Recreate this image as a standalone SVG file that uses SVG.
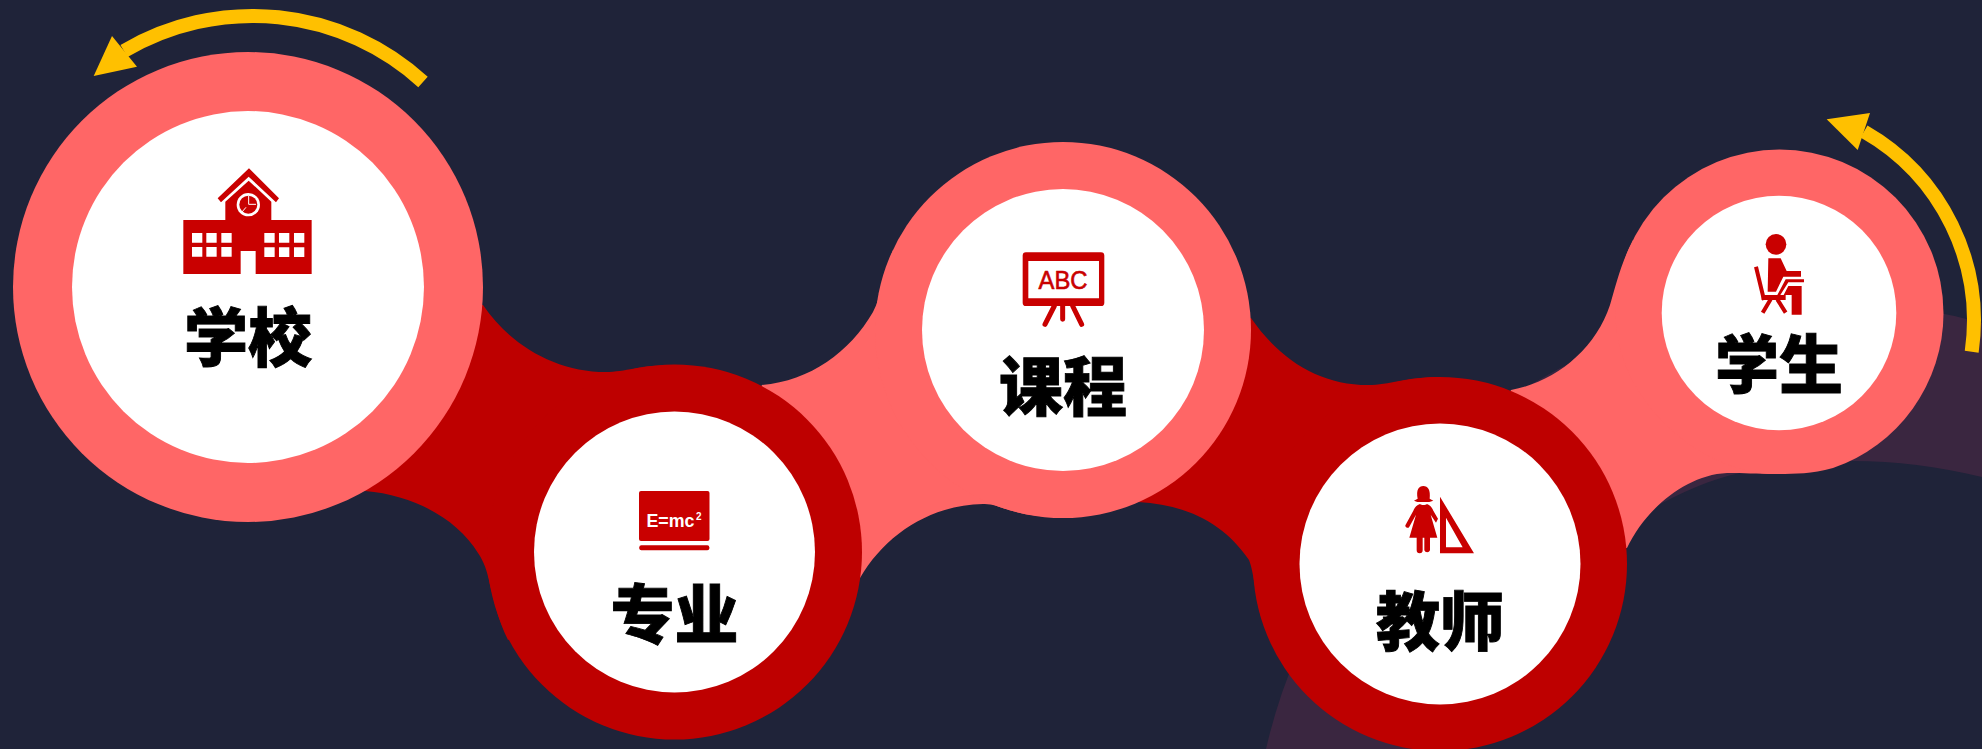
<svg xmlns="http://www.w3.org/2000/svg" width="1982" height="749" viewBox="0 0 1982 749">
<style>
.pink{fill:#FF6666}.red{fill:#BE0000}.white{fill:#FFFFFF}.ic{fill:#C90000}
.icl{fill:none;stroke:#C90000}
.lab{font-family:"Noto Sans CJK SC","Noto Sans CJK JP",sans-serif;font-weight:900;font-size:64px;text-anchor:middle;fill:#000000;stroke:#000000;stroke-width:.9px}
.wl{fill:none;stroke:#FFFFFF}
.arrow{fill:none;stroke:#FFC000;stroke-width:14}
.head{fill:#FFC000}
</style>
<rect width="1982" height="749" fill="#1F2339"/>
<path id="ring" fill="#3A2640" d="M1266,749A577,577 0 0 1 1982,323L1982,477C1900,458 1830,455 1740,473C1640,495 1500,600 1440,749Z"/>
<g id="connectors">
<path class="red" d="M483,305C510,345 556,372 606,372C625,372 640,365 675,365L675,552L508,640C498,620 494,600 490,585C487,570 484,562 478,553C458,520 415,495 365,491L248,287Z"/>
<path class="pink" d="M893,250C885,270 882,295 873,312C850,352 810,381 762,385L674,552L860,578C885,535 930,505 983,504C1000,503 1010,517 1063,517L1063,330Z"/>
<path class="red" d="M1251,318C1280,360 1320,385 1368,385C1390,385 1405,377 1441,377L1440,564L1262,620C1256,600 1254,572 1249,560C1225,525 1190,505 1138,502L1063,330Z"/>
<path class="pink" d="M1511,390C1555,382 1595,350 1610,305C1616,285 1621,263 1633,240L1779,313L1776,474C1755,474 1745,473 1727,473C1685,475 1645,510 1627,548L1440,564Z"/>
</g>
<g id="node-school">
<circle class="pink" cx="248" cy="287" r="235"/><circle class="white" cx="248" cy="287" r="176"/>
<g transform="translate(150,150) scale(.3333)">
<path class="ic" d="M297,55L387,145L378,157L296,80L213,157L203,145Z"/>
<path class="ic" d="M296,92L364,155V210H485V372H317V303H272V372H100V210H226V155Z"/>
<circle class="white" cx="295" cy="164" r="35"/><circle class="ic" cx="295" cy="164" r="27"/>
<path class="wl" stroke-width="3" d="M296,137V163H318M288,172L276,186"/>
<path class="white" d="M126,249h31v29h-31zM169,249h31v29h-31zM214,249h31v29h-31zM126,291h31v29h-31zM169,291h31v29h-31zM214,291h31v29h-31zM343,249h31v29h-31zM387,249h31v29h-31zM432,249h31v29h-31zM343,292h31v29h-31zM387,292h31v29h-31zM432,292h31v29h-31z"/>
</g>
<text class="lab" x="248" y="360.500">学校</text>
</g>
<g id="node-major">
<circle class="red" cx="674.5" cy="552" r="187.5"/><circle class="white" cx="674.5" cy="552" r="140.5"/>
<rect class="ic" x="639" y="491" width="70.500" height="50" rx="2"/>
<rect class="ic" x="639.300" y="545.300" width="70" height="5" rx="2"/>
<text x="646.500" y="527" font-family="Liberation Sans,sans-serif" font-weight="700" font-size="17.500" textLength="48" lengthAdjust="spacingAndGlyphs" fill="#FFFFFF">E=mc</text>
<text x="696" y="520" font-family="Liberation Sans,sans-serif" font-weight="700" font-size="10" fill="#FFFFFF">2</text>
<text class="lab" x="674.5" y="638">专业</text>
</g>
<g id="node-course">
<circle class="pink" cx="1063" cy="330" r="188"/><circle class="white" cx="1063" cy="330" r="141"/>
<g transform="translate(1000,230) scale(.3333)">
<path class="ic" fill-rule="evenodd" d="M78,67H303A10,10 0 0 1 313,77V218A10,10 0 0 1 303,228H78A10,10 0 0 1 68,218V77A10,10 0 0 1 78,67ZM85,93V205H297V93Z"/>
<path class="icl" stroke-width="15" stroke-linecap="round" d="M163,228L135,283M188,228V268M218,228L245,283"/>
</g>
<text x="1063" y="289" text-anchor="middle" font-family="Liberation Sans,sans-serif" font-size="25" textLength="49" lengthAdjust="spacingAndGlyphs" fill="#C90000" stroke="#C90000" stroke-width=".6">ABC</text>
<text class="lab" x="1063" y="410">课程</text>
</g>
<g id="node-teacher">
<circle class="red" cx="1440" cy="564" r="187"/><circle class="white" cx="1440" cy="564" r="140.5"/>
<g transform="translate(1380,470) scale(.3333)">
<path class="ic" d="M113,86C108,60 116,48 130,48C144,48 152,60 149,86L160,92L148,96L112,96L102,92Z"/>
<path class="ic" d="M120,102C125,106 136,106 141,102C150,106 156,112 160,122L174,146L168,158L152,134L172,203H150V241A9,9 0 0 1 133,241V203H128V241A9,9 0 0 1 110,241V203H88L108,134L88,170A6,6 0 0 1 77,164L100,122C104,112 110,106 120,102Z"/>
<path class="ic" fill-rule="evenodd" d="M180,80L282,250H180ZM198,143V232H248Z"/>
</g>
<text class="lab" x="1440" y="645">教师</text>
</g>
<g id="node-student">
<path class="pink" d="M1615.500,313.500A164,164 0 0 1 1943.500,313.500A164,164 0 0 1 1833,468C1810,474 1795,474 1776,474C1700,474 1615.500,400 1615.500,313.500Z"/>
<circle class="white" cx="1779" cy="313" r="117.300"/>
<g transform="translate(1720,220) scale(.3333)">
<circle class="ic" cx="168" cy="73" r="31"/>
<path class="ic" d="M145,115H182L200,153H243V170H190L168,215H143Z"/>
<path class="icl" stroke-width="12" d="M108,140L132,240M152,238L128,278M172,238L197,278"/>
<path class="ic" d="M125,225H172L197,178H252V187H205L181,225H197V240H125Z"/>
<path class="ic" d="M205,198H245V284H215V225H191Z"/>
</g>
<text class="lab" x="1779" y="388">学生</text>
</g>
<g id="arrows">
<path class="arrow" d="M423,82A253,253 0 0 0 124,51"/>
<polygon class="head" points="93.700,76 112,36 137,66.700"/>
<path class="arrow" d="M1971.700,351.700A218,218 0 0 0 1864,131.500"/>
<polygon class="head" points="1826.700,119.300 1870,113 1857.700,150"/>
</g>
</svg>
